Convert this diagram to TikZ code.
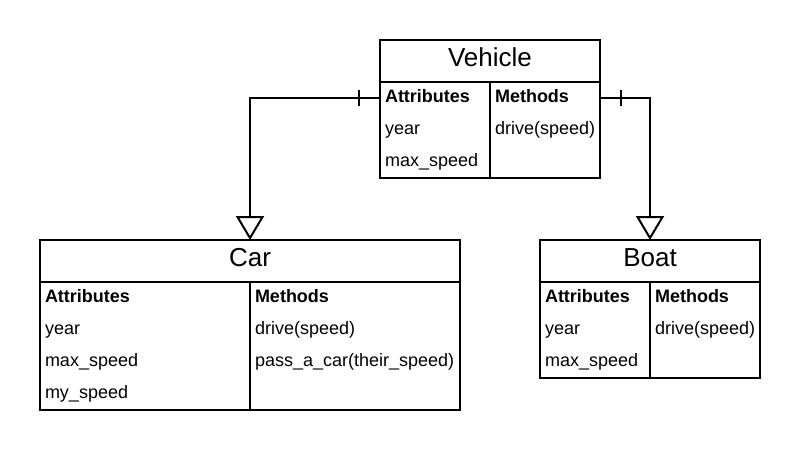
\documentclass[tikz,border=0pt]{standalone}
\usepackage{fontspec}
\setmainfont{Liberation Sans}
\usetikzlibrary{arrows.meta, positioning}

\begin{document}
\begin{tikzpicture}[x=1pt, y=-1pt, line width=2pt, outer sep=0pt]
    \tikzstyle{title}=[draw, anchor=north west, minimum height=42pt, inner sep=0pt, text depth=7pt, font=\fontsize{26}{30}\selectfont]
    \tikzstyle{part}=[draw, anchor=north west, inner sep=0pt]
    \tikzstyle{item}=[anchor=base west, inner sep=0pt, font=\fontsize{18}{21}\selectfont]
    \tikzstyle{header}=[item, font=\fontsize{18}{21}\selectfont\bfseries]
    \tikzstyle{inherit}=[-{Triangle[open, width=28pt, length=24pt]}]

    \useasboundingbox (0,0) rectangle (800,450);

    % Vehicle class
    \node[title, minimum width=220pt] (vehicle) at (380,40) {Vehicle};
    \node[part, minimum width=110pt, minimum height=96pt] (vehicle-attr) at (vehicle.south west) {};
    \node[part, minimum width=110pt, minimum height=96pt] (vehicle-meth) at (vehicle-attr.north east) {};
    \node[header] at ([shift={(5,20)}]vehicle-attr.north west) {Attributes};
    \foreach \txt [count=\i] in {year, max\_speed}
        \node[item] at ([shift={(5,20+32*\i)}]vehicle-attr.north west) {\txt};
    \node[header] at ([shift={(5,20)}]vehicle-meth.north west) {Methods};
    \node[item] at ([shift={(5,52)}]vehicle-meth.north west) {drive(speed)};

    % Car class
    \node[title, minimum width=420pt] (car) at (40,240) {Car};
    \node[part, minimum width=210pt, minimum height=128pt] (car-attr) at (car.south west) {};
    \node[part, minimum width=210pt, minimum height=128pt] (car-meth) at (car-attr.north east) {};
    \node[header] at ([shift={(5,20)}]car-attr.north west) {Attributes};
    \foreach \txt [count=\i] in {year, max\_speed, my\_speed}
        \node[item] at ([shift={(5,20+32*\i)}]car-attr.north west) {\txt};
    \node[header] at ([shift={(5,20)}]car-meth.north west) {Methods};
    \foreach \txt [count=\i] in {drive(speed), pass\_a\_car(their\_speed)}
        \node[item] at ([shift={(5,20+32*\i)}]car-meth.north west) {\txt};

    % Boat class
    \node[title, minimum width=220pt] (boat) at (540,240) {Boat};
    \node[part, minimum width=110pt, minimum height=96pt] (boat-attr) at (boat.south west) {};
    \node[part, minimum width=110pt, minimum height=96pt] (boat-meth) at (boat-attr.north east) {};
    \node[header] at ([shift={(5,20)}]boat-attr.north west) {Attributes};
    \foreach \txt [count=\i] in {year, max\_speed}
        \node[item] at ([shift={(5,20+32*\i)}]boat-attr.north west) {\txt};
    \node[header] at ([shift={(5,20)}]boat-meth.north west) {Methods};
    \node[item] at ([shift={(5,52)}]boat-meth.north west) {drive(speed)};

    % inheritance
    \draw[inherit] ([shift={(0,16)}]vehicle-attr.north west) -| (car.north);
    \draw[inherit] ([shift={(0,16)}]vehicle-meth.north east) -| (boat.north);
    \draw ([shift={(-21,8)}]vehicle-attr.north west) -- ([shift={(-21,24)}]vehicle-attr.north west);
    \draw ([shift={(21,8)}]vehicle-meth.north east) -- ([shift={(21,24)}]vehicle-meth.north east);
\end{tikzpicture}
\end{document}
